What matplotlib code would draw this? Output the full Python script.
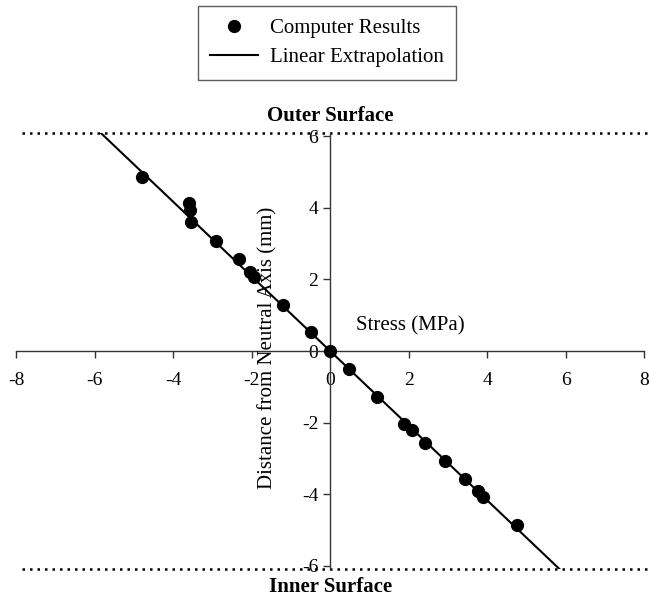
import matplotlib
matplotlib.use("Agg")
import matplotlib.pyplot as plt

plt.rcParams['font.family'] = ['Liberation Serif', 'DejaVu Serif']
plt.rcParams['axes.unicode_minus'] = False

# computer results (stress MPa, distance mm)
stress = [-4.79, -3.59, -3.56, -3.54, -2.90, -2.31, -2.05, -1.93, -1.20, -0.49, 0.0,
          0.47, 1.19, 1.89, 2.08, 2.42, 2.93, 3.44, 3.76, 3.90, 4.75]
distance = [4.87, 4.13, 3.94, 3.59, 3.08, 2.57, 2.22, 2.06, 1.28, 0.52, 0.0,
            -0.51, -1.28, -2.04, -2.21, -2.56, -3.07, -3.58, -3.91, -4.09, -4.86]

# linear extrapolation end points
fit_x = [-5.85, 5.85]
fit_y = [6.1, -6.1]

surface_y = 6.1
xticks = [-8, -6, -4, -2, 0, 2, 4, 6, 8]
yticks = [-6, -4, -2, 0, 2, 4, 6]

fig = plt.figure(figsize=(6.49, 5.99), dpi=100)
ax = fig.add_axes([0.0247, 0.0494, 0.968, 0.7292])

ax.plot(stress, distance, 'o', color='black', markersize=8.5, label='Computer Results', zorder=3)
ax.plot(fit_x, fit_y, '-', color='black', linewidth=1.5, label='Linear Extrapolation', zorder=2)

for yy in (surface_y, -surface_y):
    ax.plot([-7.85, 8.1], [yy, yy], color='black', linewidth=1.8,
            linestyle=(0, (1, 2)), dash_capstyle='butt', clip_on=False)

ax.set_xlim(-8, 8)
ax.set_ylim(-6.1, 6.1)
ax.spines['left'].set_position(('data', 0))
ax.spines['bottom'].set_position(('data', 0))
ax.spines['right'].set_visible(False)
ax.spines['top'].set_visible(False)
for s in ('left', 'bottom'):
    ax.spines[s].set_color('#333333')
    ax.spines[s].set_linewidth(1.0)
ax.set_xticks(xticks)
ax.set_yticks(yticks)
ax.tick_params(axis='both', direction='out', length=5, width=1, labelsize=14, color='#333333')
ax.tick_params(axis='x', pad=10)
ax.patch.set_visible(False)

ax.text(2.04, 0.7, 'Stress (MPa)', fontsize=15, ha='center', va='center')
ax.text(-1.58, 0.1, 'Distance from Neutral Axis (mm)', fontsize=15, rotation=90,
        ha='center', va='center')
ax.text(0, 6.56, 'Outer Surface', fontsize=15, fontweight='bold', ha='center', va='center')
ax.text(0, -6.6, 'Inner Surface', fontsize=15, fontweight='bold', ha='center', va='center')

leg = fig.legend(loc='upper center', bbox_to_anchor=(327 / 649, 1 - 6 / 599), fontsize=15,
                 frameon=True, fancybox=False, edgecolor='#333333', handlelength=2.3,
                 handletextpad=0.55, borderpad=0.6, labelspacing=0.45, borderaxespad=0)
leg.get_frame().set_linewidth(1.0)

fig.savefig('out.png', dpi=100)
